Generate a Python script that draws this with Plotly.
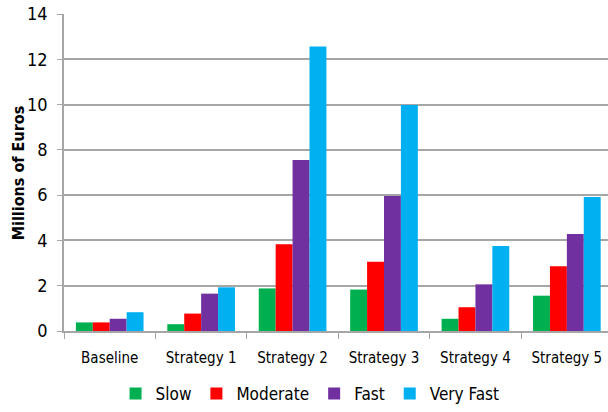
import plotly.graph_objects as go

categories = ["Baseline", "Strategy 1", "Strategy 2", "Strategy 3", "Strategy 4", "Strategy 5"]
slow = [0.38, 0.30, 1.88, 1.83, 0.54, 1.56]
moderate = [0.38, 0.77, 3.83, 3.06, 1.05, 2.86]
fast = [0.54, 1.65, 7.55, 5.96, 2.06, 4.28]
very_fast = [0.83, 1.93, 12.56, 9.98, 3.75, 5.92]
series_names = ["Slow", "Moderate", "Fast", "Very Fast"]
colors = ["#00B050", "#FF0000", "#7030A0", "#00B0F0"]
y_ticks = [0, 2, 4, 6, 8, 10, 12, 14]
y_title = "Millions of Euros"

FONT = "DejaVu Sans Condensed, Roboto, sans-serif"

fig = go.Figure()
for name, vals, col in zip(series_names, [slow, moderate, fast, very_fast], colors):
    fig.add_trace(go.Bar(x=categories, y=vals, name=name, marker=dict(color=col, line=dict(width=0))))

fig.update_layout(
    width=608, height=412,
    margin=dict(l=64, r=0, t=14, b=81, autoexpand=False),
    paper_bgcolor="white", plot_bgcolor="white",
    barmode="group", bargap=0.26, bargroupgap=0,
    font=dict(family=FONT, size=15, color="#000000"),
    legend=dict(orientation="h", xref="container", yref="container",
                x=0.51, xanchor="center", y=-0.016, yanchor="bottom",
                font=dict(size=17), itemwidth=30, traceorder="normal"),
    showlegend=True,
)
fig.add_annotation(
    text="<b>" + y_title + "</b>", xref="paper", yref="paper",
    x=-0.083, y=0.5, xanchor="center", yanchor="middle", textangle=-90,
    showarrow=False, font=dict(size=16, family=FONT, color="#000000"),
)
fig.update_xaxes(
    range=[-0.5, 5.45], showline=True, linecolor="#A6A6A6", linewidth=1.5,
    ticks="outside", tickson="boundaries", ticklen=6, tickcolor="#A6A6A6",
    tickfont=dict(size=15), ticklabelstandoff=12, showgrid=False, automargin=False,
)
fig.update_yaxes(
    range=[0, 14], tickvals=y_ticks, showline=True, linecolor="#A6A6A6", linewidth=1.5,
    ticks="outside", ticklen=5, tickcolor="#A6A6A6",
    gridcolor="#A6A6A6", gridwidth=1.5, zeroline=False,
    tickfont=dict(size=18), ticklabelstandoff=6, automargin=False,
)
fig.write_html("out.html", config={"displayModeBar": False},
               post_script="document.body.style.margin='0px';document.body.style.overflow='hidden';")
